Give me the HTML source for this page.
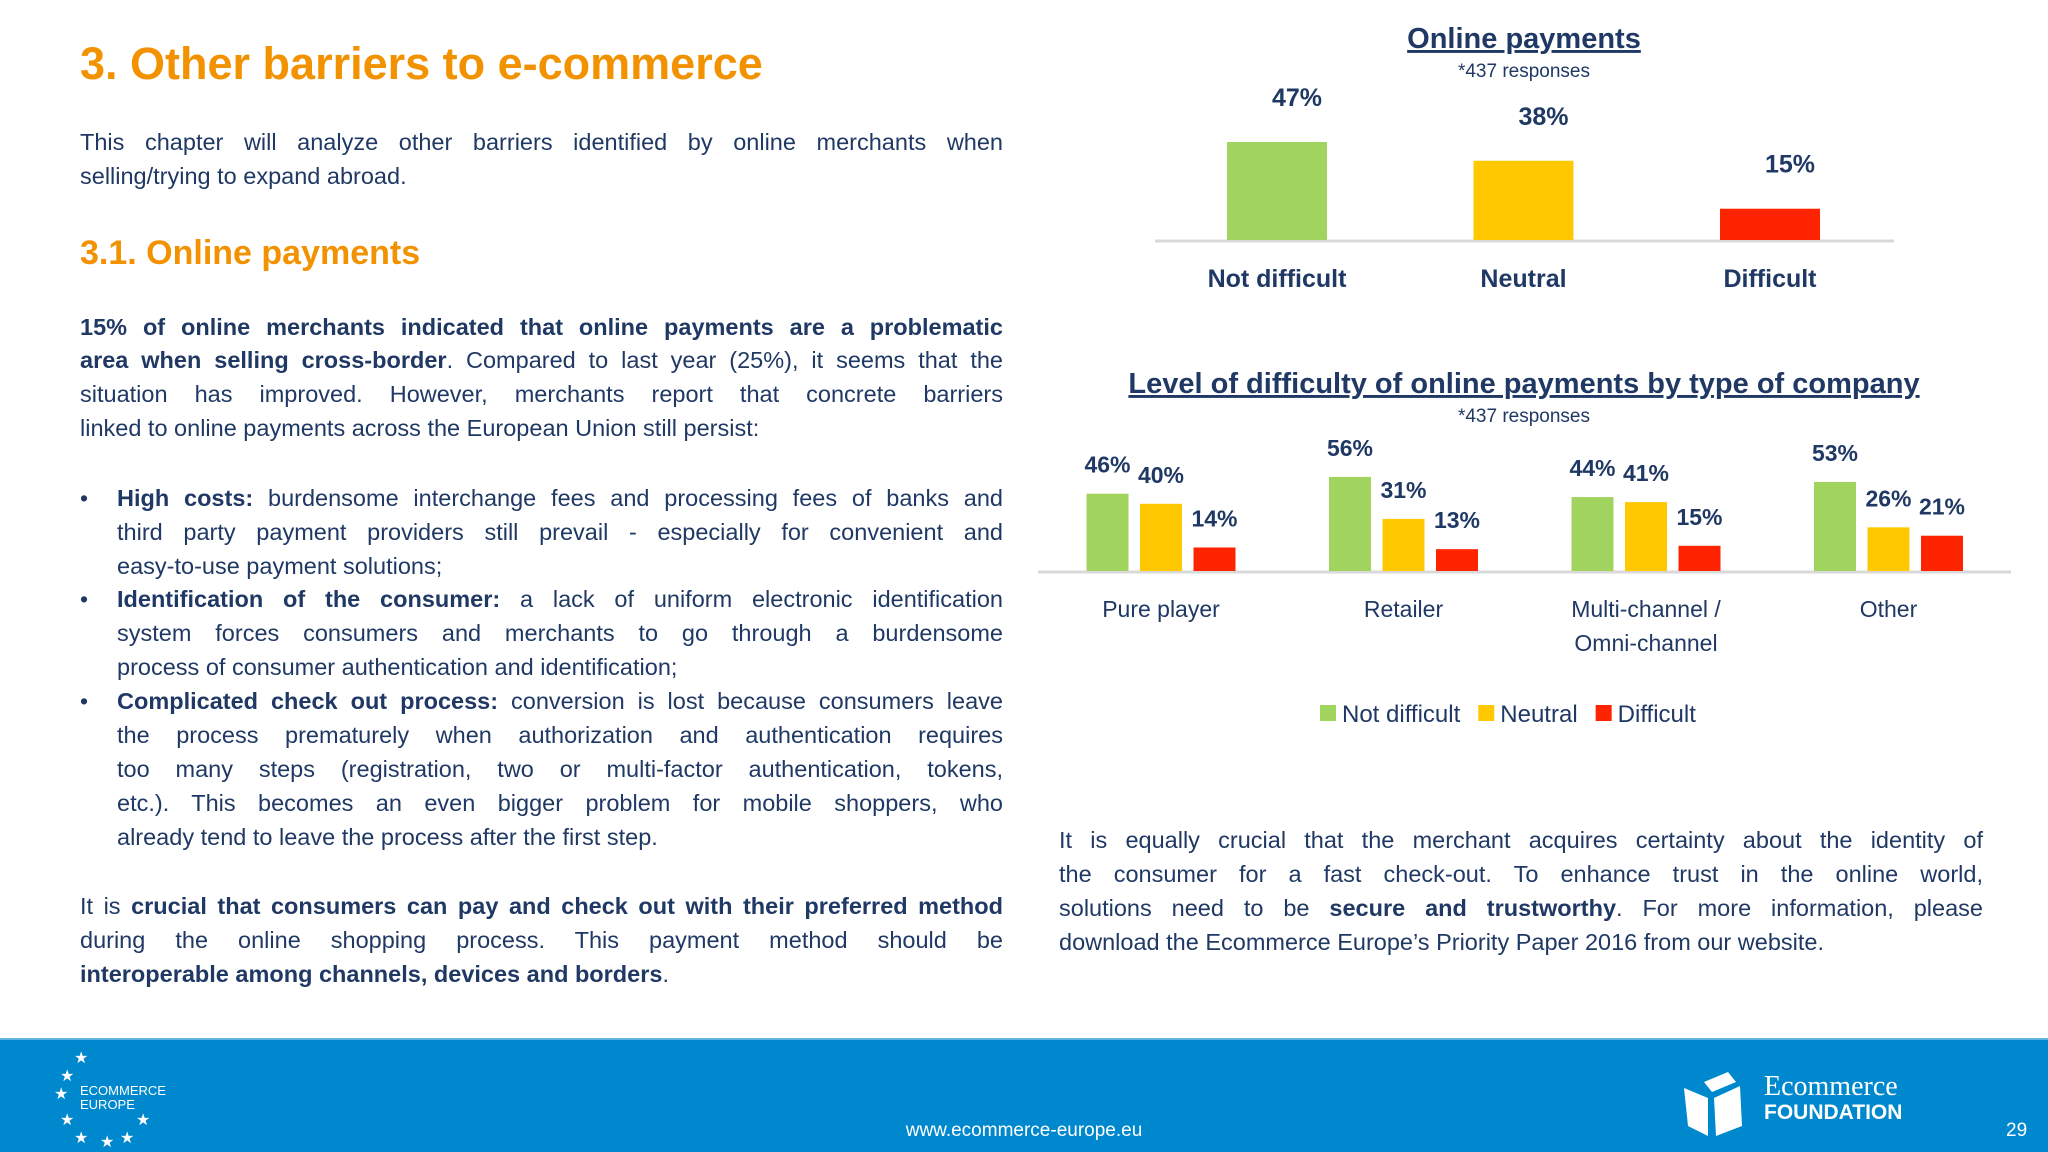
<!DOCTYPE html>
<html><head><meta charset="utf-8">
<style>
html,body{margin:0;padding:0;}
body{width:2048px;height:1152px;position:relative;overflow:hidden;background:#fff;font-family:"Liberation Sans",sans-serif;color:#1F3864;}
.t{position:absolute;white-space:nowrap;font-size:23.5px;line-height:34px;height:34px;}
.j{text-align:justify;text-align-last:justify;}
.l{left:80px;width:923px;}
.b{left:117px;width:886px;}
.r{left:1059px;width:924px;}
.dot{position:absolute;left:80px;font-size:23px;line-height:34px;}
h1,h2{margin:0;position:absolute;color:#F39200;font-weight:bold;white-space:nowrap;}
</style></head><body>
<h1 style="left:80px;top:36px;font-size:45px;line-height:56px;">3. Other barriers to e-commerce</h1>
<div class="t l j" style="top:125px">This chapter will analyze other barriers identified by online merchants when</div>
<div class="t l" style="top:159px">selling/trying to expand abroad.</div>
<h2 style="left:80px;top:231px;font-size:34px;line-height:44px;">3.1. Online payments</h2>
<div class="t l j" style="top:310px"><b>15% of online merchants indicated that online payments are a problematic</b></div>
<div class="t l j" style="top:343px"><b>area when selling cross-border</b>. Compared to last year (25%), it seems that the</div>
<div class="t l j" style="top:377px">situation has improved. However, merchants report that concrete barriers</div>
<div class="t l" style="top:411px">linked to online payments across the European Union still persist:</div>

<div class="dot" style="top:481px">•</div>
<div class="t b j" style="top:481px"><b>High costs:</b> burdensome interchange fees and processing fees of banks and</div>
<div class="t b j" style="top:515px">third party payment providers still prevail - especially for convenient and</div>
<div class="t b" style="top:549px">easy-to-use payment solutions;</div>
<div class="dot" style="top:582px">•</div>
<div class="t b j" style="top:582px"><b>Identification of the consumer:</b> a lack of uniform electronic identification</div>
<div class="t b j" style="top:616px">system forces consumers and merchants to go through a burdensome</div>
<div class="t b" style="top:650px">process of consumer authentication and identification;</div>
<div class="dot" style="top:684px">•</div>
<div class="t b j" style="top:684px"><b>Complicated check out process:</b> conversion is lost because consumers leave</div>
<div class="t b j" style="top:718px">the process prematurely when authorization and authentication requires</div>
<div class="t b j" style="top:752px">too many steps (registration, two or multi-factor authentication, tokens,</div>
<div class="t b j" style="top:786px">etc.). This becomes an even bigger problem for mobile shoppers, who</div>
<div class="t b" style="top:820px">already tend to leave the process after the first step.</div>

<div class="t l j" style="top:889px">It is <b>crucial that consumers can pay and check out with their preferred method</b></div>
<div class="t l j" style="top:923px">during the online shopping process. This payment method should be</div>
<div class="t l" style="top:957px"><b>interoperable among channels, devices and borders</b>.</div>

<div class="t r j" style="top:823px">It is equally crucial that the merchant acquires certainty about the identity of</div>
<div class="t r j" style="top:857px">the consumer for a fast check-out. To enhance trust in the online world,</div>
<div class="t r j" style="top:891px">solutions need to be <b>secure and trustworthy</b>. For more information, please</div>
<div class="t r" style="top:925px">download the Ecommerce Europe’s Priority Paper 2016 from our website.</div>

<svg id="charts" width="2048" height="1152" style="position:absolute;left:0;top:0;" xmlns="http://www.w3.org/2000/svg" font-family="Liberation Sans, sans-serif">
<text x="1524" y="48" text-anchor="middle" font-size="29" font-weight="bold" fill="#1F3864" text-decoration="underline">Online payments</text>
<text x="1524" y="77" text-anchor="middle" font-size="19" fill="#1F3864">*437 responses</text>
<text x="1524" y="393" text-anchor="middle" font-size="29" font-weight="bold" fill="#1F3864" text-decoration="underline">Level of difficulty of online payments by type of company</text>
<text x="1524" y="422" text-anchor="middle" font-size="19" fill="#1F3864">*437 responses</text>
<g id="c1"></g><g id="c2"></g>
</svg>

<div style="position:absolute;left:0;top:1038px;width:2048px;height:114px;background:#0088CF;border-top:2px solid #5fb4e0;box-sizing:border-box;">
  <div style="position:absolute;left:52px;top:8px;width:130px;height:100px;color:#fff;">
    <div style="position:absolute;left:22px;top:0;font-size:16px">★</div>
    <div style="position:absolute;left:8px;top:18px;font-size:16px">★</div>
    <div style="position:absolute;left:2px;top:36px;font-size:16px">★</div>
    <div style="position:absolute;left:8px;top:62px;font-size:16px">★</div>
    <div style="position:absolute;left:84px;top:62px;font-size:16px">★</div>
    <div style="position:absolute;left:22px;top:80px;font-size:16px">★</div>
    <div style="position:absolute;left:48px;top:84px;font-size:16px">★</div>
    <div style="position:absolute;left:68px;top:80px;font-size:16px">★</div>
    <div style="position:absolute;left:28px;top:36px;font-size:13px;line-height:14px;">ECOMMERCE<br>EUROPE</div>
  </div>
  <div style="position:absolute;left:824px;width:400px;text-align:center;top:80px;font-size:19px;color:#fff;">www.ecommerce-europe.eu</div>
  <div style="position:absolute;left:1678px;top:30px;width:72px;height:70px;">
    <svg width="72" height="70"><path d="M6 18 L30 28 L30 66 L10 56 Z M36 28 L62 16 L64 56 L38 66 Z M26 12 L50 2 L58 12 L34 22 Z" fill="#fff"/></svg>
  </div>
  <div style="position:absolute;left:1764px;top:34px;color:#fff;line-height:26px;">
    <div style="font-family:'Liberation Serif',serif;font-size:28px;">Ecommerce</div>
    <div style="font-size:21px;font-weight:bold;">FOUNDATION</div>
  </div>
  <div style="position:absolute;left:2006px;top:80px;font-size:19px;color:#fff;">29</div>
</div>

<script>
// Chart 1 data
const c1Categories = ["Not difficult","Neutral","Difficult"];
const c1Values = [47,38,15];
// Chart 2 data
const c2Categories = [["Pure player"],["Retailer"],["Multi-channel /","Omni-channel"],["Other"]];
const c2NotDifficult = [46,56,44,53];
const c2Neutral = [40,31,41,26];
const c2Difficult = [14,13,15,21];
const seriesNames = ["Not difficult","Neutral","Difficult"];

const NS="http://www.w3.org/2000/svg";
const colors=["#A1D45F","#FFC800","#FF2400"];
const ink="#1F3864";
function mk(tag,attrs,parent){const e=document.createElementNS(NS,tag);for(const k in attrs)e.setAttribute(k,attrs[k]);parent.appendChild(e);return e;}

// chart 1
const g1=document.getElementById('c1');
const y1=v=>240-v*2.085;
const x1=i=>1277+i*246.5;
mk('line',{x1:1155,y1:241,x2:1894,y2:241,stroke:'#d9d9d9','stroke-width':3},g1);
c1Values.forEach((v,i)=>{
  const r=mk('rect',{x:x1(i)-50,y:y1(v),width:100,height:240-y1(v),fill:colors[i]},g1);
  
  
  const t=mk('text',{x:x1(i)+20,y:y1(v)-36,'text-anchor':'middle','font-size':25,'font-weight':'bold',fill:ink},g1);
  t.textContent=v+'%';
  
  
  const c=mk('text',{x:x1(i),y:287,'text-anchor':'middle','font-size':25,'font-weight':'bold',fill:ink},g1);
  c.textContent=c1Categories[i];
  
  
});

// chart 2
const g2=document.getElementById('c2');
const base2=571;
const y2=v=>base2-v*1.68;
const gx=i=>1161+i*242.5;
mk('line',{x1:1038,y1:572,x2:2011,y2:572,stroke:'#d9d9d9','stroke-width':3},g2);
const series=[c2NotDifficult,c2Neutral,c2Difficult];
c2Categories.forEach((cat,i)=>{
  series.forEach((s,k)=>{
    const cx=gx(i)+(k-1)*53.5;
    const v=s[i];
    const r=mk('rect',{x:cx-21,y:y2(v),width:42,height:base2-y2(v),fill:colors[k]},g2);
    
    
    const t=mk('text',{x:cx,y:y2(v)-21,'text-anchor':'middle','font-size':23,'font-weight':'bold',fill:ink},g2);
    t.textContent=v+'%';
    
    
  });
  cat.forEach((line,li)=>{
    const c=mk('text',{x:gx(i),y:617+li*34,'text-anchor':'middle','font-size':23,fill:ink},g2);
    c.textContent=line;
    
    
  });
});
// legend
let lx=1320;
seriesNames.forEach((n,k)=>{
  const sq=mk('rect',{x:lx,y:705,width:16,height:16,fill:colors[k]},g2);
  
  
  const t=mk('text',{x:lx+22,y:722,'font-size':24,fill:ink},g2);
  t.textContent=n;
  
  
  lx+=22+t.getComputedTextLength()+18;
});

// fit text lines
document.querySelectorAll('.t').forEach(el=>{
  let fs=23.5;
  while(el.scrollWidth>el.clientWidth+1&&fs>16){fs-=0.5;el.style.fontSize=fs+'px';}
});
</script>
</body></html>
